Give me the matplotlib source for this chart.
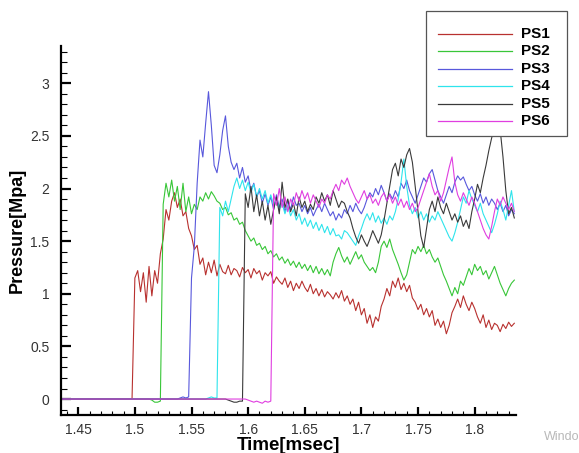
import numpy as np
import matplotlib
matplotlib.use("Agg")
import matplotlib.pyplot as plt
from matplotlib.ticker import MultipleLocator, FuncFormatter
from matplotlib.patches import Rectangle
from matplotlib.lines import Line2D

plt.rcParams['font.family'] = ['Liberation Sans', 'DejaVu Sans']

# sampling of the pressure gauges [msec]
T0 = 1.435
DT = 0.0025

labels = ['PS1', 'PS2', 'PS3', 'PS4', 'PS5', 'PS6']
colors = ['#b8312f', '#38c638', '#5858dc', '#2ee4ec', '#3a3a3a', '#e03ee0']

ps1 = [0.0] * 26 + [
    1.15, 1.22, 1.02, 1.20, 0.92, 1.26, 0.98, 1.22, 1.10, 1.38,
    1.52, 1.80, 1.70, 1.88, 1.96, 1.82, 1.90, 1.74, 1.78, 1.62,
    1.55, 1.42, 1.46, 1.28, 1.34, 1.18, 1.30, 1.20, 1.32, 1.17,
    1.28, 1.21, 1.19, 1.27, 1.18, 1.24, 1.22, 1.16, 1.25, 1.20,
    1.23, 1.15, 1.24, 1.19, 1.22, 1.13, 1.20, 1.17, 1.21, 1.10,
    1.16, 1.12, 1.09, 1.15, 1.06, 1.12, 1.03, 1.10, 1.05, 1.12,
    1.06, 1.02, 1.09, 1.00, 1.05, 0.98, 1.04, 0.97, 1.02, 0.99,
    0.95, 1.01, 0.96, 1.03, 0.93, 0.98, 0.90, 0.95, 0.84, 0.92,
    0.80, 0.86, 0.72, 0.80, 0.68, 0.78, 0.74, 0.88, 0.95, 1.05,
    0.98, 1.12, 1.06, 1.15, 1.04, 1.10, 1.02, 1.08, 0.96, 0.92,
    0.85, 0.90, 0.80, 0.86, 0.78, 0.84, 0.70, 0.76, 0.68, 0.74,
    0.62, 0.70, 0.82, 0.88, 0.95, 0.87, 0.98, 0.90, 0.84, 0.92,
    0.86, 0.78, 0.72, 0.80, 0.68, 0.75, 0.66, 0.72, 0.70, 0.64,
    0.71, 0.67, 0.73, 0.69, 0.72]

ps2 = [0.0] * 32 + [-0.01, -0.03, -0.03, -0.02] + [
    1.85, 2.05, 1.92, 2.08, 1.88, 2.02, 1.80, 2.05, 1.78, 1.92,
    1.76, 1.85, 1.80, 1.92, 1.88, 1.96, 1.90, 1.97, 1.93, 1.88,
    1.86, 1.80, 1.82, 1.75, 1.77, 1.70, 1.72, 1.66, 1.68, 1.60,
    1.55, 1.50, 1.53, 1.46, 1.48, 1.42, 1.45, 1.38, 1.41, 1.35,
    1.38, 1.32, 1.35, 1.29, 1.33, 1.27, 1.31, 1.25, 1.30, 1.24,
    1.28, 1.22, 1.27, 1.20, 1.26, 1.19, 1.24, 1.18, 1.23, 1.17,
    1.30, 1.38, 1.44, 1.36, 1.30, 1.35, 1.28, 1.34, 1.40, 1.33,
    1.37, 1.30, 1.26, 1.22, 1.25, 1.20, 1.30, 1.45, 1.50, 1.44,
    1.52, 1.42, 1.35, 1.28, 1.20, 1.13, 1.18, 1.30, 1.42, 1.38,
    1.45, 1.40, 1.46, 1.38, 1.42, 1.35, 1.30, 1.34, 1.26, 1.18,
    1.12, 1.05, 0.98, 1.06, 1.00, 1.12, 1.08, 1.16, 1.24, 1.18,
    1.28, 1.22, 1.26, 1.18, 1.22, 1.14, 1.20, 1.26, 1.18, 1.10,
    1.04, 0.98, 1.05, 1.10, 1.13]

ps3 = [0.0] * 42 + [0.01, 0.02, 0.01, 0.02] + [
    1.15, 1.45, 2.05, 2.46, 2.30, 2.62, 2.92, 2.60, 2.22, 2.15,
    2.32, 2.55, 2.69, 2.40, 2.25, 2.18, 2.24, 2.10, 2.20, 2.06,
    2.12, 1.98, 2.05, 1.92, 1.98, 1.86, 1.95, 1.84, 1.92, 1.80,
    1.94, 1.82, 1.90, 1.78, 1.88, 1.80, 1.92, 1.84, 1.86, 1.78,
    1.84, 1.76, 1.82, 1.74, 1.80, 1.85, 1.78, 1.86, 1.80, 1.74,
    1.78, 1.70, 1.76, 1.72, 1.80, 1.76, 1.84, 1.78, 1.86, 1.80,
    1.76, 1.82, 1.90, 1.96, 1.92, 2.00, 1.94, 2.03, 1.96, 1.88,
    1.95, 1.90, 1.98, 1.92, 2.05, 2.00, 2.08, 1.98, 1.92, 1.86,
    1.94, 2.02, 2.10, 2.06, 2.14, 2.18, 2.08, 1.98, 1.92, 1.86,
    1.94, 2.02, 1.96, 2.06, 2.12, 2.08, 2.11, 2.04, 1.98, 2.02,
    1.94, 1.88, 1.95, 1.86, 1.92, 1.84, 1.90, 1.86, 1.80, 1.86,
    1.78, 1.84, 1.74, 1.80, 1.76]

ps4 = [0.0] * 52 + [0.01, 0.02, 0.01, 0.01] + [
    1.82, 1.74, 1.88, 1.78, 1.90, 2.02, 2.10, 2.00, 2.08, 1.98,
    2.06, 1.96, 2.04, 1.92, 2.00, 1.90, 1.98, 1.86, 1.94, 1.84,
    1.90, 1.80, 1.86, 1.76, 1.84, 1.74, 1.80, 1.70, 1.76, 1.66,
    1.72, 1.64, 1.70, 1.62, 1.68, 1.60, 1.66, 1.58, 1.64, 1.56,
    1.62, 1.55, 1.56, 1.52, 1.60, 1.58, 1.54, 1.50, 1.46, 1.55,
    1.62, 1.70, 1.76, 1.70, 1.77, 1.68, 1.74, 1.67, 1.72, 1.66,
    1.74, 1.70, 1.78, 1.90, 2.06, 2.28, 2.02, 1.84, 1.76, 1.82,
    1.72, 1.78, 1.70, 1.76, 1.68, 1.74, 1.70, 1.78, 1.72, 1.66,
    1.60, 1.54, 1.50, 1.58, 1.68, 1.80, 1.92, 1.86, 1.98, 1.90,
    1.84, 1.78, 1.86, 1.76, 1.70, 1.64, 1.58, 1.66, 1.76, 1.88,
    1.80, 1.70, 1.84, 1.98, 1.78]

ps5 = [0.0] * 59 + [-0.01, -0.02, -0.03, -0.03, -0.02, -0.02] + [
    1.95, 1.82, 2.02, 1.78, 1.94, 1.74, 1.88, 1.70, 1.84, 1.66,
    1.80, 1.92, 1.76, 2.06, 1.82, 1.90, 1.78, 1.86, 1.74, 1.92,
    1.82, 1.88, 1.78, 1.85, 1.80, 1.92, 1.86, 1.96, 1.88, 1.94,
    1.84, 1.98, 1.90, 1.82, 1.88,
    1.86, 1.78, 1.72, 1.62, 1.54, 1.48, 1.56, 1.50, 1.45, 1.52,
    1.60, 1.54, 1.48, 1.56, 1.70, 1.86, 2.02, 2.18, 2.24, 2.12,
    2.28, 2.20, 2.32, 2.38, 2.25, 2.02, 1.78, 1.55, 1.44, 1.62,
    1.80, 1.88, 1.78, 1.92, 1.82, 1.76, 1.86, 1.78, 1.70, 1.76,
    1.68, 1.74, 1.64, 1.70, 1.62, 1.78, 1.90, 2.04, 1.96, 2.10,
    2.22, 2.36, 2.48, 2.58, 2.52, 2.56, 2.30, 1.98, 1.76, 1.82,
    1.72]

ps6 = [0.0] * 66 + [-0.01, -0.02, -0.03, -0.02, -0.03, -0.04, -0.02, -0.03, -0.02] + [
    1.95, 1.84, 2.00, 1.82, 1.92, 1.78, 1.90, 1.84, 1.96, 1.88,
    1.98, 1.90, 1.96, 1.86, 1.94, 1.88, 1.82, 1.90, 1.86, 1.94,
    1.90, 1.98, 2.04, 1.98, 2.08, 2.04, 2.10, 2.02, 1.96, 1.90,
    1.86, 1.92, 1.98, 1.90, 1.94, 1.86, 1.90, 1.84, 1.92, 1.96,
    1.88, 1.94, 1.86, 1.92, 1.84, 1.90, 1.82, 1.88, 1.80, 1.86,
    1.78, 1.82, 1.90, 1.98, 2.06, 2.14, 2.02, 1.94, 1.98, 1.88,
    1.96, 2.08, 2.20, 2.30, 2.06, 1.94, 1.88, 1.96, 1.90, 1.84,
    1.92, 1.86, 1.78, 1.70, 1.62, 1.56, 1.52, 1.64, 1.78, 1.90,
    1.84, 1.92, 1.86, 1.80, 1.86, 1.78]

series = [ps1, ps2, ps3, ps4, ps5, ps6]

W, H = 579, 453
fig = plt.figure(figsize=(W / 100, H / 100), dpi=100)
ax = fig.add_axes([0.1048, 0.0845, 0.7864, 0.814])

for p, lab, c in zip(series, labels, colors):
    t = T0 + DT * np.arange(len(p))
    ax.plot(t, p, color=c, lw=0.8, label=lab)

ax.set_xlim(1.4345, 1.8365)
ax.set_ylim(-0.149, 3.354)

for s in ['top', 'right']:
    ax.spines[s].set_visible(False)
for s in ['left', 'bottom']:
    ax.spines[s].set_linewidth(1.6)

ax.xaxis.set_major_locator(MultipleLocator(0.05))
ax.xaxis.set_minor_locator(MultipleLocator(0.01))
ax.yaxis.set_major_locator(MultipleLocator(0.5))
ax.yaxis.set_minor_locator(MultipleLocator(0.1))
fmt = FuncFormatter(lambda v, pos: '%g' % round(v, 3))
ax.xaxis.set_major_formatter(fmt)
ax.yaxis.set_major_formatter(fmt)

ax.tick_params(axis='x', which='major', direction='in', length=5.5, width=1.6,
               pad=6, labelsize=10, labelcolor='#333333')
ax.tick_params(axis='x', which='minor', direction='in', length=2.8, width=0.8)
ax.tick_params(axis='y', which='major', direction='in', length=7, width=1.6,
               pad=8, labelsize=10, labelcolor='#333333')
ax.tick_params(axis='y', which='minor', direction='in', length=4, width=0.8)

ax.set_xlabel('Time[msec]', fontsize=13.5, fontweight='bold', labelpad=0)
ax.set_ylabel('Pressure[Mpa]', fontsize=13, fontweight='bold', labelpad=3)

# legend box drawn by hand, in figure pixels
def fx(px):
    return px / W

def fy(py):
    return 1 - py / H

fig.add_artist(Rectangle((fx(426), fy(136)), fx(567) - fx(426), fy(11) - fy(136),
                         transform=fig.transFigure, facecolor='white',
                         edgecolor='#555555', lw=0.9, zorder=5))
for i, (lab, c) in enumerate(zip(labels, colors)):
    yy = fy(34 + 17.4 * i)
    fig.add_artist(Line2D([fx(438), fx(512)], [yy, yy], transform=fig.transFigure,
                          color=c, lw=0.9, zorder=6))
    fig.text(fx(521), yy, lab, fontsize=11, fontweight='bold',
             va='center', ha='left', zorder=6)

fig.text(1.0, 0.028, 'Windo', color='#b8b8b8', fontsize=9, ha='right')

fig.savefig('out.png', dpi=100)
